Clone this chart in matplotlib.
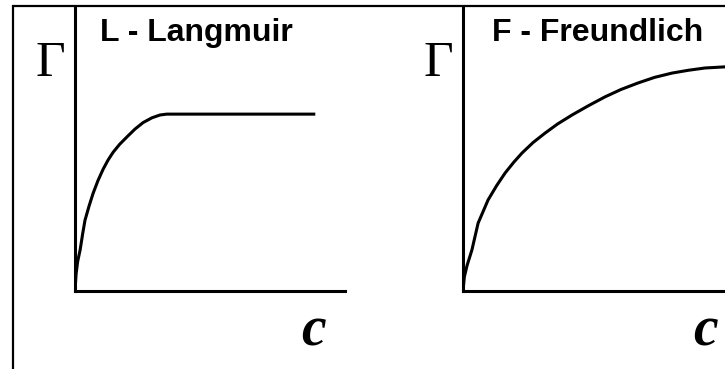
import matplotlib
matplotlib.use("Agg")
import matplotlib.pyplot as plt
from matplotlib.patches import Rectangle

# Langmuir isotherm (arbitrary units)
lang_c = [0, 0.04, 0.1, 0.19, 0.28, 0.37, 0.52, 0.67, 0.85, 1.04, 1.22, 1.41,
          1.65, 1.93, 2.22, 2.52, 2.85, 3.15, 3.4, 8.9]
lang_g = [0, 0.6, 1.05, 1.45, 2.0, 2.5, 3.0, 3.45, 3.9, 4.3, 4.62, 4.9,
          5.18, 5.45, 5.72, 5.95, 6.12, 6.22, 6.25, 6.25]

# Freundlich isotherm
freu_c = [0, 0.05, 0.15, 0.33, 0.56, 0.93, 1.25, 1.56, 1.88, 2.19, 2.6, 3.04,
          3.5, 4.04, 4.65, 5.26, 5.85, 6.48, 7.1, 7.74, 8.35, 8.96, 9.7, 10.0]
freu_g = [0, 0.5, 0.9, 1.45, 2.4, 3.22, 3.73, 4.17, 4.55, 4.88, 5.25, 5.58,
          5.9, 6.22, 6.55, 6.86, 7.12, 7.35, 7.55, 7.7, 7.8, 7.88, 7.92, 7.93]

titles = ["L - Langmuir", "F - Freundlich"]

W, H = 725, 369
fig = plt.figure(figsize=(W / 100, H / 100), dpi=100)


def fx(px):
    return px / W


def fy(py):
    return 1 - py / H


lw = 2.2
panels = [
    (75, lang_c, lang_g, titles[0], 100, 50, 313),
    (463, freu_c, freu_g, titles[1], 492, 438, 705),
]

for x0, cs, gs, title, tx, gx, cx in panels:
    ax = fig.add_axes([fx(x0), fy(291), 270 / W, 283 / H])
    ax.plot(cs, gs, color="black", lw=lw, solid_joinstyle="round", solid_capstyle="butt")
    ax.set_xlim(0, 10)
    ax.set_ylim(0, 10)
    for s in ["top", "right"]:
        ax.spines[s].set_visible(False)
    for s in ["left", "bottom"]:
        ax.spines[s].set_linewidth(lw)
    ax.set_xticks([])
    ax.set_yticks([])
    ax.patch.set_alpha(0)

    fig.text(fx(tx), fy(41), title, ha="left", va="baseline",
             family="Liberation Sans", weight="bold", size=23)
    fig.text(fx(gx), fy(76), "\u0393", ha="center", va="baseline",
             family="Liberation Serif", size=37)
    fig.text(fx(cx), fy(346), "c", ha="center", va="baseline",
             family="Liberation Serif", weight="bold", style="italic", size=40)

# border frame, cut off at right and bottom
fig.patches.append(Rectangle((fx(12.5), -0.1), 1.0, fy(6.5) + 0.1,
                             transform=fig.transFigure, fill=False,
                             edgecolor="black", lw=1.6))

fig.savefig("out.png", dpi=100)
